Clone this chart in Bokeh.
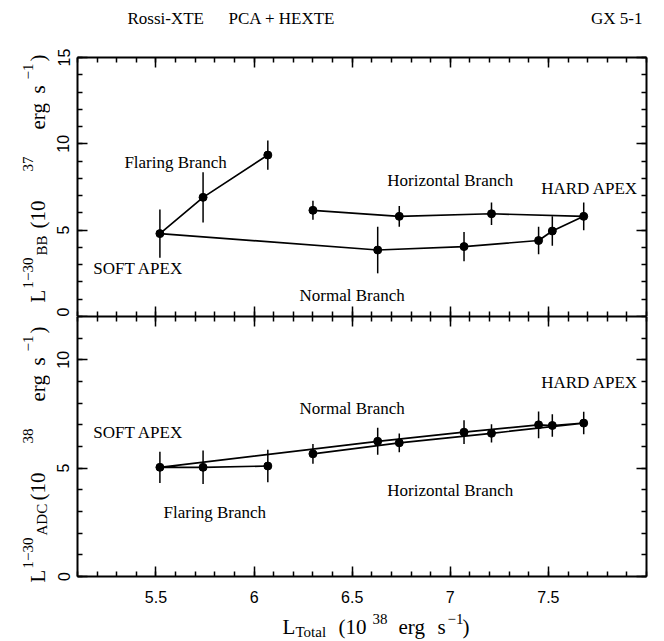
import math
from bokeh.plotting import figure
from bokeh.models import LinearAxis, FixedTicker, SingleIntervalTicker, NumeralTickFormatter, Range1d
from bokeh.layouts import column, row
from bokeh.core.properties import value
from bokeh.embed import file_html
from bokeh.resources import INLINE

# ---------------- data (Z-track order: FB tip -> soft apex -> NB -> hard apex -> HB) -------------
x_total   = [6.07, 5.74, 5.52, 6.63, 7.07, 7.45, 7.52, 7.68, 7.21, 6.74, 6.30]
l_bb      = [9.35, 6.90, 4.80, 3.85, 4.05, 4.40, 4.95, 5.80, 5.95, 5.80, 6.15]
l_bb_err  = [0.85, 1.45, 1.40, 1.35, 0.85, 0.80, 0.85, 0.80, 0.65, 0.60, 0.55]
l_adc     = [5.10, 5.04, 5.04, 6.24, 6.66, 7.00, 6.97, 7.08, 6.61, 6.17, 5.66]
l_adc_err = [0.75, 0.77, 0.72, 0.62, 0.55, 0.62, 0.52, 0.52, 0.42, 0.43, 0.46]

x_major_ticks = [5.5, 6.0, 6.5, 7.0, 7.5]
x_minor_ticks = [round(5.1 + 0.1 * i, 1) for i in range(30)]

upper_names = ["Flaring Branch", "SOFT APEX", "Normal Branch", "Horizontal Branch", "HARD APEX"]
upper_lx = [5.60, 5.41, 6.50, 7.00, 7.71]
upper_ly = [8.9, 2.77, 1.21, 7.89, 7.4]
lower_names = ["SOFT APEX", "Normal Branch", "HARD APEX", "Flaring Branch", "Horizontal Branch"]
lower_lx = [5.41, 6.50, 7.71, 5.80, 7.00]
lower_ly = [6.65, 7.75, 8.95, 2.95, 3.97]

title_left = ["Rossi-XTE", "PCA + HEXTE"]
title_right = "GX 5-1"

SERIF = "Liberation Serif"
SANS = "Liberation Sans"
PAGE_H = 641


def strip(w, h):
    s = figure(width=w, height=h, x_range=Range1d(0, w), y_range=Range1d(0, h), min_border=0,
               x_axis_location=None, y_axis_location=None, output_backend="svg",
               toolbar_location=None, frame_align=False)
    s.grid.visible = False
    s.outline_line_color = None
    s.background_fill_color = "white"
    s.border_fill_color = "white"
    return s


def put_text(s, x, y, t, size, align="left", angle=0.0):
    s.text(x=[x], y=[y], text=[t], angle=angle, text_font=value(SERIF), text_font_size=f"{size}px",
           text_align=align, text_baseline="alphabetic", text_color="black")


def rich_vertical(s, segs, start, base):
    # segs: (text, size, shift towards glyph top, offset along the reading direction)
    for t, sz, sh, off in segs:
        put_text(s, base - sh, PAGE_H - (start - off), t, sz, angle=math.pi / 2)


def rich_horizontal(s, segs, base, x_off):
    for t, sz, sh, pos in segs:
        put_text(s, pos - x_off, base + sh, t, sz)


def style_axis(ax, ticker, show_labels, standoff=0, orientation="horizontal"):
    ax.ticker = ticker
    ax.axis_line_color = "black"
    ax.axis_line_width = 2
    ax.major_tick_line_color = "black"
    ax.major_tick_line_width = 1.5
    ax.minor_tick_line_color = "black"
    ax.minor_tick_line_width = 1.5
    ax.major_tick_in = 10
    ax.major_tick_out = 0
    ax.minor_tick_in = 5
    ax.minor_tick_out = 0
    ax.axis_label = None
    if show_labels:
        ax.major_label_text_font = SANS
        ax.major_label_text_font_size = "16px"
        ax.major_label_text_color = "black"
        ax.major_label_standoff = standoff
        ax.major_label_orientation = orientation
        ax.formatter = NumeralTickFormatter(format="0.[0]")
    else:
        ax.major_label_text_font_size = "0px"
        ax.major_label_text_color = None
        ax.major_label_standoff = 0


def xt():
    return FixedTicker(ticks=x_major_ticks, minor_ticks=x_minor_ticks)


def yt():
    return SingleIntervalTicker(interval=5, num_minor_ticks=5)


def make_panel(ymax, fh, top, bottom, xlabels):
    p = figure(frame_width=569, frame_height=fh,
               x_range=Range1d(5.1, 8.0), y_range=Range1d(0, ymax),
               min_border=0, min_border_left=27, min_border_right=18,
               min_border_top=top, min_border_bottom=bottom,
               x_axis_location=None, y_axis_location=None,
               output_backend="svg", toolbar_location=None)
    p.grid.visible = False
    p.outline_line_color = None
    p.background_fill_color = "white"
    p.border_fill_color = "white"
    left = LinearAxis()
    style_axis(left, yt(), True, standoff=8, orientation="vertical")
    p.add_layout(left, "left")
    right = LinearAxis()
    style_axis(right, yt(), False)
    p.add_layout(right, "right")
    above = LinearAxis()
    style_axis(above, xt(), False)
    p.add_layout(above, "above")
    below = LinearAxis()
    style_axis(below, xt(), xlabels, standoff=14)
    p.add_layout(below, "below")
    return p


def draw_track(p, y, err, names, lx, ly):
    lo = [v - e for v, e in zip(y, err)]
    hi = [v + e for v, e in zip(y, err)]
    p.segment(x0=x_total, y0=lo, x1=x_total, y1=hi, line_color="black", line_width=1.5)
    p.line(x_total, y, line_color="black", line_width=1.7)
    p.scatter(x_total, y, size=8, fill_color="black", line_color="black")
    p.text(x=lx, y=ly, text=names, text_font=value(SERIF), text_font_size="17px",
           text_align="center", text_baseline="middle", text_color="black")


# canvas layout: left strip 50 px wide; right column = title strip, two panels, x-label strip
left_strip = strip(50, PAGE_H)
top_strip = strip(614, 40)
upper = make_panel(15, 259, 17, 0, False)
lower = make_panel(12, 260, 0, 33, True)
bottom_strip = strip(614, 32)

draw_track(upper, l_bb, l_bb_err, upper_names, upper_lx, upper_ly)
draw_track(lower, l_adc, l_adc_err, lower_names, lower_lx, lower_ly)

# title (strip coordinates: x = page x - 50, y up from strip bottom)
put_text(top_strip, 77, 22, title_left[0], 17)
put_text(top_strip, 178, 22, title_left[1], 17)
put_text(top_strip, 592, 22, title_right, 17, align="right")

# y-axis titles, reading upwards from a start at page y
rich_vertical(left_strip, [("L", 21, 0, 0), ("1−30", 15, 10, 14), ("BB", 15, -4, 47),
                           ("(10", 21, 0, 74), ("37", 15, 10, 131), ("erg", 21, 0, 173),
                           ("s", 21, 0, 209), ("−1", 15, 10, 223), (")", 21, 0, 241)],
              start=302, base=37)
rich_vertical(left_strip, [("L", 21, 0, 0), ("1−30", 15, 10, 14), ("ADC", 15, -4, 47),
                           ("(10", 21, 0, 82), ("38", 15, 10, 139), ("erg", 21, 0, 181),
                           ("s", 21, 0, 217), ("−1", 15, 10, 231), (")", 21, 0, 249)],
              start=582, base=37)

# x-axis title (page x positions, baseline up from strip bottom)
rich_horizontal(bottom_strip, [("L", 21, 0, 282), ("Total", 15, -5, 295), ("(10", 21, 0, 338),
                               ("38", 15, 8, 372), ("erg", 21, 0, 398), ("s", 21, 0, 437),
                               ("−1", 15, 8, 447), (")", 21, 0, 462)],
                base=15, x_off=50)

layout = row(left_strip, column(top_strip, upper, lower, bottom_strip, spacing=0), spacing=0)
open("out.html", "w").write(file_html(layout, INLINE))
